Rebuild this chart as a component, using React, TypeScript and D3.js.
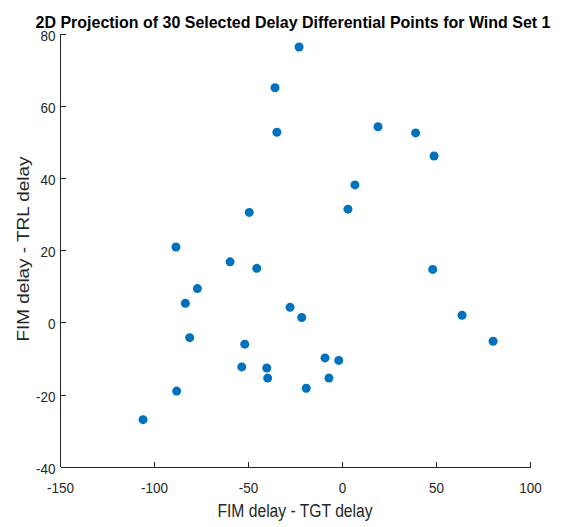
import React from "react";
import * as d3 from "d3";

// Delay differential samples: FIM - TGT (x) and FIM - TRL (y)
const tgtDiff = [
  -23.1, -35.9, -34.9, 18.9, 38.9, 48.7, 6.6, 2.9, -49.6, -88.6,
  -59.8, -45.6, 48.0, -77.2, -83.6, -27.9, -21.7, 63.6, -81.3, -52.0,
  80.1, -9.3, -2.0, -53.6, -40.3, -39.8, -7.2, -19.3, -88.2, -106.1,
];
const trlDiff = [
  76.4, 65.1, 52.8, 54.3, 52.6, 46.2, 38.2, 31.5, 30.6, 21.0,
  16.9, 15.1, 14.8, 9.5, 5.4, 4.3, 1.5, 2.1, -4.1, -5.9,
  -5.1, -9.7, -10.4, -12.2, -12.5, -15.3, -15.3, -18.1, -18.9, -26.8,
];
const xTicks = [-150, -100, -50, 0, 50, 100];
const yTicks = [-40, -20, 0, 20, 40, 60, 80];

const W = 562;
const H = 527;
const left = 60.5;
const right = 530.5;
const top = 34;
const bottom = 467.3;
const axisColor = "#262626";
const font = "'Liberation Sans', Arial, Helvetica, sans-serif";

export default function App() {
  const x = d3.scaleLinear().domain([-150, 100]).range([left, right]);
  const y = d3.scaleLinear().domain([-40, 80]).range([bottom, top]);
  const points = tgtDiff.map((v, i) => ({ x: v, y: trlDiff[i] }));
  const tickLen = 5;

  return (
    <svg
      width={W}
      height={H}
      viewBox={`0 0 ${W} ${H}`}
      style={{ position: "absolute", left: 0, top: 0, background: "#fff" }}
    >
      <rect x={0} y={0} width={W} height={H} fill="#fff" />

      {/* title, narrowed to the figure's text proportions */}
      <text
        transform="translate(293,27.5) scale(0.93,1)"
        textAnchor="middle"
        fontFamily={font}
        fontWeight="bold"
        fontSize={17.2}
        fill="#000"
      >
        2D Projection of 30 Selected Delay Differential Points for Wind Set 1
      </text>

      {/* axes */}
      <g stroke={axisColor} strokeWidth={1} fill="none" shapeRendering="crispEdges">
        <line x1={left} x2={right} y1={bottom} y2={bottom} />
        <line x1={left} x2={left} y1={top} y2={bottom} />
        {xTicks.map((t) => (
          <line key={`xt${t}`} x1={x(t)} x2={x(t)} y1={bottom} y2={bottom - tickLen} />
        ))}
        {yTicks.map((t) => (
          <line key={`yt${t}`} x1={left} x2={left + tickLen} y1={y(t)} y2={y(t)} />
        ))}
      </g>

      {/* tick labels */}
      {xTicks.map((t) => (
        <text
          key={`xl${t}`}
          transform={`translate(${x(t)},${493.3}) scale(0.9,1)`}
          textAnchor="middle"
          fontFamily={font}
          fontSize={15}
          fill={axisColor}
        >
          {t}
        </text>
      ))}
      {yTicks.map((t) => (
        <text
          key={`yl${t}`}
          transform={`translate(${55.5},${y(t) + 6.5}) scale(0.9,1)`}
          textAnchor="end"
          fontFamily={font}
          fontSize={15}
          fill={axisColor}
        >
          {t}
        </text>
      ))}

      {/* axis labels */}
      <text
        transform="translate(295,516.7) scale(0.87,1)"
        textAnchor="middle"
        fontFamily={font}
        fontSize={18}
        fill={axisColor}
      >
        FIM delay - TGT delay
      </text>
      <text
        transform="translate(28.7,249) rotate(-90) scale(1.16,1)"
        textAnchor="middle"
        fontFamily={font}
        fontSize={16.3}
        fill={axisColor}
      >
        FIM delay - TRL delay
      </text>

      {/* points */}
      <g fill="#0072BD">
        {points.map((p, i) => (
          <circle key={i} cx={x(p.x)} cy={y(p.y)} r={4.5} />
        ))}
      </g>
    </svg>
  );
}
